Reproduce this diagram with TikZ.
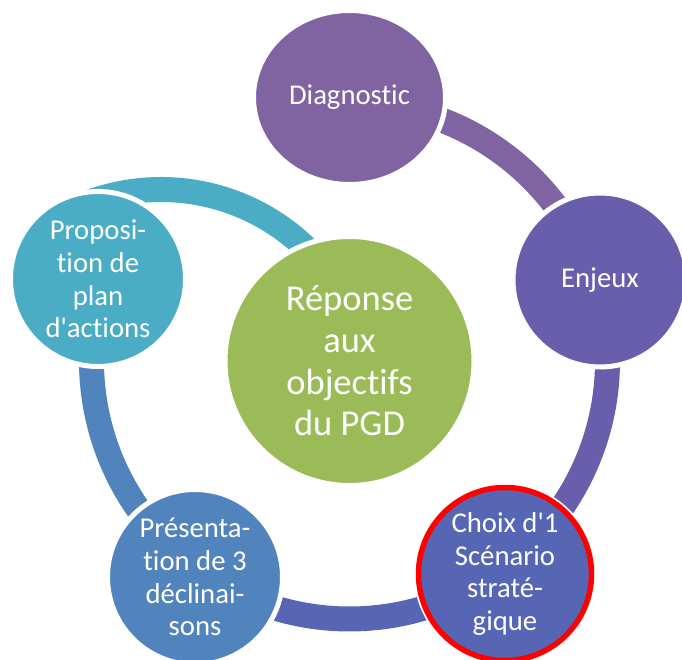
\documentclass[tikz,border=0pt]{standalone}
\usepackage{fontspec}
\setmainfont{Carlito}[Ligatures={TeXOff,NoCommon}]
\usetikzlibrary{shapes.geometric,calc}
\definecolor{cDiag}{HTML}{8064A2}
\definecolor{cEnj}{HTML}{695EAB}
\definecolor{cChoix}{HTML}{5766B4}
\definecolor{cPres}{HTML}{5184BD}
\definecolor{cProp}{HTML}{4BACC6}
\definecolor{cCenter}{HTML}{9BBB59}
\definecolor{cRed}{HTML}{FF0000}
\newcommand\outerfont{\fontsize{28.7}{32.7}\selectfont}
\newcommand\centerfont{\fontsize{36.5}{41.6}\selectfont}
\begin{document}
\begin{tikzpicture}[x=1pt,y=1pt,
  bubble/.style={circle, inner sep=0pt, draw=white, line width=5pt, text=white, align=center, font=\outerfont},
  band/.style={line width=25pt}]
\clip (0,0) rectangle (682,659);
\coordinate (O) at (349.5,298);
\coordinate (T) at (161,261);
% connecting bands
\draw[band, cDiag]  ($(O)+(80:258)$)  arc[start angle=80,  end angle=25,   radius=258];
\draw[band, cEnj]   ($(O)+(10:258)$)  arc[start angle=10,  end angle=-45,  radius=258];
\draw[band, cChoix] ($(O)+(-62:258)$) arc[start angle=-62, end angle=-115, radius=258];
\draw[band, cPres]  ($(O)+(225:258)$) arc[start angle=225, end angle=170,  radius=258];
\draw[band, cProp]  ($(T)+(110:208.5)$) arc[start angle=110, end angle=40, radius=208.5];
% bubbles
\node[bubble, ellipse, fill=cDiag, minimum width=192pt, minimum height=174pt] (diag) at (349.5,561.5) {Diagnostic};
\node[bubble, fill=cEnj, minimum size=174pt] (enj) at (600,379) {Enjeux};
\node[circle, fill=white, minimum size=182pt, inner sep=0pt] (choixbg) at (505,85) {};
\node[bubble, fill=cChoix, draw=cRed, line width=5.5pt, minimum size=173pt] (choix) at (505,85) {Choix d'1\\Scénario\\straté-\\gique};
\node[bubble, fill=cPres, minimum size=175pt] (pres) at (195,82) {Présenta-\\tion de 3\\déclinai-\\sons};
\node[bubble, fill=cProp, minimum size=175pt] (prop) at (98,380) {Proposi-\\tion de\\plan\\d'actions};
\node[bubble, fill=cCenter, minimum size=249pt, font=\centerfont] (center) at (O) {Réponse\\aux\\objectifs\\du PGD};
\end{tikzpicture}
\end{document}
